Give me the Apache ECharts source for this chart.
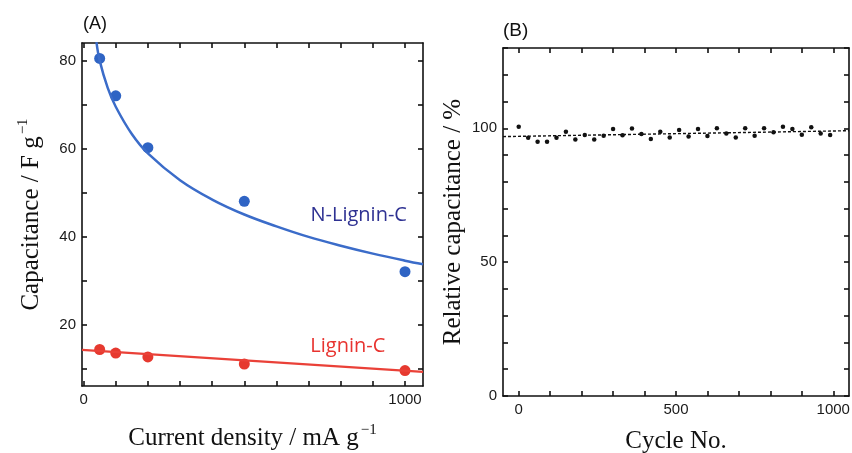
<!DOCTYPE html>
<html>
<head>
<meta charset="utf-8">
<script src="https://cdn.jsdelivr.net/npm/echarts@6/dist/echarts.min.js"></script>
<style>
  html, body { margin: 0; padding: 0; background: #fff; }
  #chart { width: 852px; height: 453px; }
</style>
</head>
<body>
<div id="chart"></div>
<script>
// (A) capacitance vs current density
const currentDensity = [50, 100, 200, 500, 1000];
const nLigninC = [80.5, 72, 60.2, 48, 32];
const ligninC = [14.3, 13.5, 12.6, 11, 9.5];

// fitted curves
const nFitX = [40, 50, 75, 100, 150, 200, 300, 400, 500, 600, 700, 800, 900, 1000, 1056];
const nFitY = [84.2, 80, 73.8, 69.5, 63.3, 58.9, 52.8, 48.4, 45, 42.3, 39.9, 37.9, 36.1, 34.5, 33.7];
const lFitX = [-5, 1056];
const lFitY = [14.2, 9.2];

// (B) cycling stability
const cycles = [0, 30, 60, 90, 120, 150, 180, 210, 240, 270, 300, 330, 360, 390, 420, 450, 480,
  510, 540, 570, 600, 630, 660, 690, 720, 750, 780, 810, 840, 870, 900, 930, 960, 990];
const retention = [100.6, 96.5, 95, 95, 96.5, 98.7, 95.8, 97.5, 95.8, 97.2, 99.7, 97.4, 99.9, 97.9,
  96, 98.7, 96.6, 99.4, 96.9, 99.7, 97.1, 100, 98.1, 96.6, 100, 97.2, 100, 98.5, 100.6, 99.7,
  97.6, 100.4, 98.1, 97.5];
const retFitX = [-50, 1050];
const retFitY = [96.9, 99.1];

const ticksA_x = [0, 100, 200, 300, 400, 500, 600, 700, 800, 900, 1000];
const labelsA_x = [0, 1000];
const ticksA_y = [10, 20, 30, 40, 50, 60, 70, 80];
const labelsA_y = [20, 40, 60, 80];
const ticksB_x = [0, 100, 200, 300, 400, 500, 600, 700, 800, 900, 1000];
const labelsB_x = [0, 500, 1000];
const ticksB_y = [0, 10, 20, 30, 40, 50, 60, 70, 80, 90, 100, 110, 120, 130];
const labelsB_y = [0, 50, 100];

const pairs = (xs, ys) => xs.map((x, i) => [x, ys[i]]);

const serif = "'Liberation Serif', 'Times New Roman', serif";
const sans = "'Liberation Sans', Arial, sans-serif";

const titleRich = {
  t: { fontFamily: serif, fontSize: 25, color: "#111" },
  s: { fontFamily: serif, fontSize: 15, color: "#111", padding: [0, 0, 16, 2] },
};

const makeAxis = (opts) => {
  const { gridIndex, position, min, max, ticks, labels, name, nameGap, show } = opts;
  return {
    type: "value",
    gridIndex,
    position,
    min,
    max,
    axisLine: { show: true, onZero: false, lineStyle: { color: "#111", width: 1.6 } },
    axisTick: {
      show: true,
      inside: true,
      length: 5,
      customValues: ticks,
      lineStyle: { color: "#111", width: 1.6 },
    },
    axisLabel: {
      show: show,
      customValues: labels,
      formatter: (v) => String(v),
      fontFamily: sans,
      fontSize: 15,
      color: "#1a1a1a",
      margin: 6,
    },
    splitLine: { show: false },
    name: name || "",
    nameLocation: "middle",
    nameGap: nameGap || 0,
    nameTextStyle: { rich: titleRich },
  };
};

const chart = echarts.init(document.getElementById("chart"));

const option = {
  backgroundColor: "#fff",
  animation: false,
  grid: [
    { left: 82, top: 43, width: 341, height: 343, containLabel: false, outerBoundsMode: "none" },
    { left: 503, top: 48, width: 346, height: 348, containLabel: false, outerBoundsMode: "none" },
  ],
  xAxis: [
    makeAxis({ gridIndex: 0, position: "bottom", min: -5, max: 1056, ticks: ticksA_x, labels: labelsA_x,
      name: "{t|Current density / mA g}{s|−1}", nameGap: 37, show: true }),
    makeAxis({ gridIndex: 0, position: "top", min: -5, max: 1056, ticks: ticksA_x, labels: [], show: false }),
    makeAxis({ gridIndex: 1, position: "bottom", min: -50, max: 1050, ticks: ticksB_x, labels: labelsB_x,
      name: "{t|Cycle No.}", nameGap: 33, show: true }),
    makeAxis({ gridIndex: 1, position: "top", min: -50, max: 1050, ticks: ticksB_x, labels: [], show: false }),
  ],
  yAxis: [
    makeAxis({ gridIndex: 0, position: "left", min: 6, max: 84, ticks: ticksA_y, labels: labelsA_y,
      name: "{t|Capacitance / F g}{s|−1}", nameGap: 35, show: true }),
    makeAxis({ gridIndex: 0, position: "right", min: 6, max: 84, ticks: ticksA_y, labels: [], show: false }),
    makeAxis({ gridIndex: 1, position: "left", min: 0, max: 130, ticks: ticksB_y, labels: labelsB_y,
      name: "{t|Relative capacitance / %}", nameGap: 37, show: true }),
    makeAxis({ gridIndex: 1, position: "right", min: 0, max: 130, ticks: ticksB_y, labels: [], show: false }),
  ],
  graphic: [
    { type: "text", left: 83, top: 15, style: { text: "(A)", font: "18px " + sans, fill: "#111" } },
    { type: "text", left: 503, top: 21, style: { text: "(B)", font: "19px " + sans, fill: "#111" } },
  ],
  series: [
    {
      name: "N-Lignin-C fit",
      type: "line",
      xAxisIndex: 0,
      yAxisIndex: 0,
      data: pairs(nFitX, nFitY),
      smooth: 0.4,
      showSymbol: false,
      clip: true,
      lineStyle: { color: "#3b6cc9", width: 2.5 },
      markPoint: {
        symbol: "circle",
        symbolSize: 0,
        data: [{ coord: [856, 44.9], value: "N-Lignin-C" }],
        label: { show: true, formatter: "N-Lignin-C", fontFamily: "'Open Sans', sans-serif",
          fontSize: 20, color: "#2e3192" },
      },
    },
    {
      name: "Lignin-C fit",
      type: "line",
      xAxisIndex: 0,
      yAxisIndex: 0,
      data: pairs(lFitX, lFitY),
      showSymbol: false,
      lineStyle: { color: "#ea4138", width: 2.2 },
      markPoint: {
        symbol: "circle",
        symbolSize: 0,
        data: [{ coord: [822, 15], value: "Lignin-C" }],
        label: { show: true, formatter: "Lignin-C", fontFamily: "'Open Sans', sans-serif",
          fontSize: 20, color: "#e8332f" },
      },
    },
    {
      name: "N-Lignin-C",
      type: "scatter",
      xAxisIndex: 0,
      yAxisIndex: 0,
      data: pairs(currentDensity, nLigninC),
      symbolSize: 11,
      itemStyle: { color: "#2f64c4", opacity: 1 },
    },
    {
      name: "Lignin-C",
      type: "scatter",
      xAxisIndex: 0,
      yAxisIndex: 0,
      data: pairs(currentDensity, ligninC),
      symbolSize: 11,
      itemStyle: { color: "#e6392f", opacity: 1 },
    },
    {
      name: "Retention fit",
      type: "line",
      xAxisIndex: 2,
      yAxisIndex: 2,
      data: pairs(retFitX, retFitY),
      showSymbol: false,
      lineStyle: { color: "#111", width: 1.4, type: [3, 2] },
    },
    {
      name: "Retention",
      type: "scatter",
      xAxisIndex: 2,
      yAxisIndex: 2,
      data: pairs(cycles, retention),
      symbolSize: 4.5,
      itemStyle: { color: "#111", opacity: 1 },
    },
  ],
};

chart.setOption(option);
</script>
</body>
</html>
